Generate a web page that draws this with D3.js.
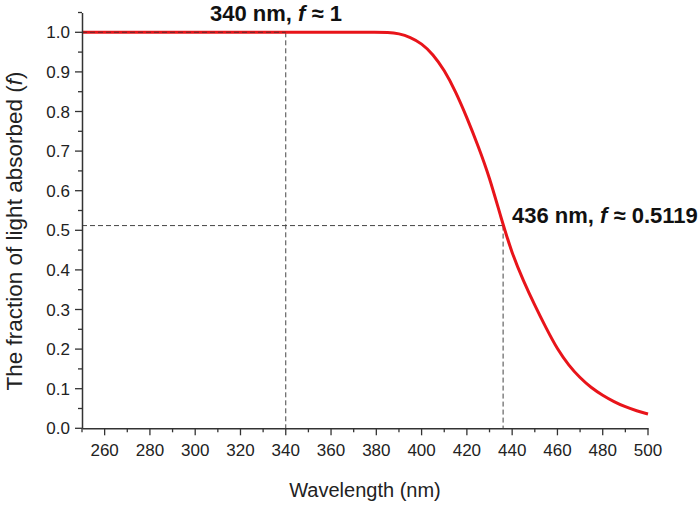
<!DOCTYPE html>
<html><head><meta charset="utf-8">
<script src="https://cdn.jsdelivr.net/npm/d3@7"></script>
<style>body{margin:0;background:#fff}svg{display:block}</style>
</head><body>
<svg id="c" width="700" height="506"></svg>
<script>
const wavelengths = [250,260,270,280,290,300,310,320,330,340,350,360,370,380,385,390,395,400,405,410,415,420,425,430,435,440,445,450,455,460,465,470,475,480,485,490,495,500];
const fraction    = [1,1,1,1,1,1,1,1,1,1,1,1,1,1,1.0,0.997,0.988,0.972,0.945,0.905,0.851,0.785,0.713,0.634,0.533,0.440,0.372,0.310,0.253,0.199,0.159,0.127,0.102,0.083,0.067,0.054,0.044,0.036];
const xTicks = [260,280,300,320,340,360,380,400,420,440,460,480,500];
const yTicks = [0,0.1,0.2,0.3,0.4,0.5,0.6,0.7,0.8,0.9,1.0];
const markers = [{x:340, f:1, label:"340 nm, ", val:"1"},{x:436, f:0.5119, label:"436 nm, ", val:"0.5119"}];

const svg = d3.select("#c");
const x = d3.scaleLinear().domain([250,500]).range([82,648]);
const y = d3.scaleLinear().domain([0,1.05]).range([428.3,12.5]);
const axisCol = "#333";
const font = "'Liberation Sans', Arial, sans-serif";

// dashed guides
const g = svg.append("g");
markers.forEach(m=>{
  g.append("line").attr("x1",x(250)).attr("x2",x(m.x)).attr("y1",y(m.f)).attr("y2",y(m.f));
  g.append("line").attr("x1",x(m.x)).attr("x2",x(m.x)).attr("y1",y(m.f)).attr("y2",y(0));
});
g.selectAll("line").attr("stroke","#444").attr("stroke-width",1).attr("stroke-dasharray","5,3");

// curve
const line = d3.line().x((d,i)=>x(wavelengths[i])).y(d=>y(d)).curve(d3.curveBasis);
svg.append("path").datum(fraction).attr("d",line).attr("fill","none").attr("stroke","#e8141a").attr("stroke-width",3);
// dashes visible over the red at f=1
svg.append("line").attr("x1",x(250)).attr("x2",x(340)).attr("y1",y(1)).attr("y2",y(1))
  .attr("stroke","#333").attr("stroke-width",1).attr("stroke-dasharray","5,3").attr("opacity",0.7);

// x axis
const xAxisG = svg.append("g").attr("transform",`translate(0,${y(0)})`);
const xAll = d3.range(250,501,10);
xAxisG.call(d3.axisBottom(x).tickValues(xAll).tickSize(0).tickFormat(""));
xAxisG.selectAll(".tick").remove();
xAll.forEach(v=>{
  const major = xTicks.includes(v);
  xAxisG.append("line").attr("x1",x(v)).attr("x2",x(v)).attr("y1",0).attr("y2",major?7:4).attr("stroke",axisCol).attr("stroke-width",1.3);
});
xAxisG.selectAll("text.lbl").data(xTicks).enter().append("text").attr("class","lbl")
  .attr("x",d=>x(d)).attr("y",28).attr("text-anchor","middle")
  .attr("font-family",font).attr("font-size",17).attr("fill","#222").text(d=>d);

// y axis
const yAxisG = svg.append("g").attr("transform",`translate(${x(250)},0)`);
yAxisG.call(d3.axisLeft(y).tickValues([]).tickSizeOuter(0));
const yAll = d3.range(0,21.5,1).map(i=>i*0.05);
yAll.forEach((v,i)=>{
  const major = i%2===0;
  yAxisG.append("line").attr("x1",major?-7:-4).attr("x2",0).attr("y1",y(v)).attr("y2",y(v)).attr("stroke",axisCol).attr("stroke-width",1.3);
});
yAxisG.selectAll("text.lbl").data(yTicks).enter().append("text").attr("class","lbl")
  .attr("x",-12).attr("y",d=>y(d)).attr("dy","0.36em").attr("text-anchor","end")
  .attr("font-family",font).attr("font-size",17).attr("fill","#222").text(d=>d3.format(".1f")(d));

svg.selectAll(".domain").attr("stroke",axisCol).attr("stroke-width",1.5);

// axis titles
svg.append("text").attr("x",365).attr("y",497).attr("text-anchor","middle")
  .attr("font-family",font).attr("font-size",20).attr("fill","#222").text("Wavelength (nm)");
const yt = svg.append("text").attr("transform","translate(22,231) rotate(-90)").attr("text-anchor","middle")
  .attr("font-family",font).attr("font-size",22.5).attr("fill","#222");
yt.append("tspan").text("The fraction of light absorbed (");
yt.append("tspan").attr("font-style","italic").text("f");
yt.append("tspan").text(")");

// annotations
const ann = [{x:210,y:21},{x:512,y:223}];
markers.forEach((m,i)=>{
  const t = svg.append("text").attr("x",ann[i].x).attr("y",ann[i].y)
    .attr("font-family",font).attr("font-size",22).attr("font-weight","bold").attr("fill","#111");
  t.append("tspan").text(m.label);
  t.append("tspan").attr("font-style","italic").text("f");
  t.append("tspan").text(" ≈ " + m.val);
});
</script>
</body></html>
